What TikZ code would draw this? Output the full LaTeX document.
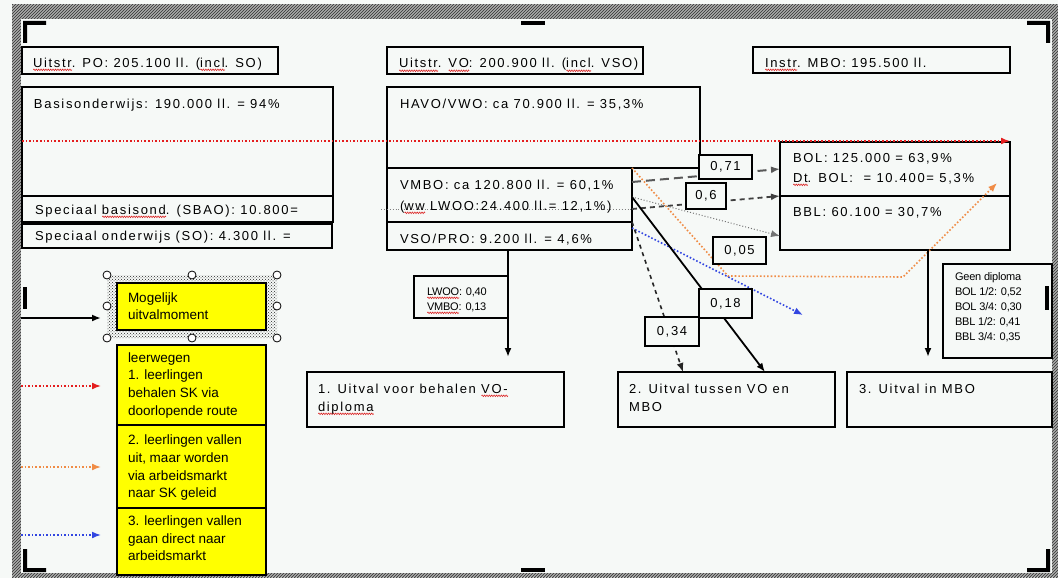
\documentclass[tikz,border=0pt]{standalone}
\usepackage{fontspec}
\setmainfont{Liberation Sans}
\newfontfamily\mf[LetterSpace=13]{Liberation Sans}
\newfontfamily\lgf{Liberation Sans}
\newfontfamily\smf[LetterSpace=-2]{Liberation Sans}
\usetikzlibrary{arrows.meta,patterns,decorations.pathmorphing}
\definecolor{bgc}{RGB}{246,249,247}
\definecolor{hatchc}{RGB}{70,70,70}
\definecolor{spellred}{RGB}{220,40,40}
\definecolor{reddot}{RGB}{228,30,30}
\definecolor{orangedot}{RGB}{240,140,70}
\definecolor{bluedot}{RGB}{50,70,225}
\definecolor{yel}{RGB}{255,255,0}
\newsavebox\splbox
\newcommand\spl[1]{\sbox\splbox{#1}\rlap{\tikz[baseline=0pt]{\draw[spellred,line width=0.6pt,decorate,decoration={zigzag,amplitude=0.8pt,segment length=2.4pt}] (0pt,-2.8pt) -- (\the\wd\splbox,-2.8pt);}}\usebox\splbox}
\newcommand\bx[6][]{\node[box,#1,minimum width={(#5-#3)*1pt},minimum height={(#6-#4)*1pt},anchor=north west] (#2) at (#3,#4) {};}
\begin{document}
\begin{tikzpicture}[x=1pt,y=-1pt,
  box/.style={draw=black,line width=1.2pt,inner sep=0pt,outer sep=0pt},
  lab/.style={box,fill=bgc},
  labt/.style={font=\mf\fontsize{13pt}{15pt}\selectfont,inner sep=0pt},
  ybox/.style={box,fill=yel},
  txt/.style={anchor=base west,inner sep=0pt,outer sep=0pt,font=\mf\fontsize{13pt}{15pt}\selectfont},
  lgt/.style={anchor=base west,inner sep=0pt,outer sep=0pt,font=\lgf\fontsize{13.5pt}{16pt}\selectfont},
  smt/.style={anchor=base west,inner sep=0pt,outer sep=0pt,font=\smf\fontsize{11pt}{13pt}\selectfont},
  tip/.style={-{Latex[length=9pt,width=7pt]}},
  reddotted/.style={reddot,line width=1.6pt,dotted,tip},
  orangedotted/.style={orangedot,line width=1.6pt,dotted,tip},
  bluedotted/.style={bluedot,line width=1.6pt,dotted,tip},
  longdash/.style={black!65,line width=2pt,dash pattern=on 9pt off 5pt,tip},
  middash/.style={black!75,line width=1.8pt,dash pattern=on 5pt off 4pt,tip},
  shortdash/.style={black!85,line width=1.6pt,dash pattern=on 4pt off 4pt,tip},
  thindot/.style={black!55,line width=1pt,dotted,tip},
  solidline/.style={black,line width=1.8pt,tip},
  hatchline/.style={hatchc,line width=1.1pt},
  handle/.style={circle,draw=black,line width=0.8pt,fill=white,minimum size=8pt,inner sep=0pt}]
\useasboundingbox (0,0) rectangle (1058,578);
\fill[bgc] (0,0) rectangle (1058,578);
% hatched frame
\begin{scope}
  \clip (12,5) rectangle (1058,578);
  \foreach \i in {-600,-597,...,1060} \draw[hatchline] (\i,578) -- (\i+578,0);
\end{scope}
\fill[bgc] (21,19) rectangle (1052,573);
% corner marks
\fill[black] (23,21) rectangle (46,25) (23,21) rectangle (27,43);
\fill[black] (521,21) rectangle (545,25);
\fill[black] (1027,21) rectangle (1050,25) (1046,21) rectangle (1050,43);
\fill[black] (23,287) rectangle (27,309);
\fill[black] (1045,286) rectangle (1049,310);
\fill[black] (23,549) rectangle (27,572) (23,568) rectangle (46,572);
\fill[black] (521,568) rectangle (545,572);
\fill[black] (1046,549) rectangle (1050,572) (1027,568) rectangle (1050,572);

% main boxes
\bx{po}{22}{47}{278}{74}
\bx{basis}{22}{87}{333}{196}
\bx{sbao}{22}{196}{333}{222}
\bx{so}{22}{224}{332}{248}
\bx{vo}{387}{47}{643}{74}
\bx{havo}{387}{87}{700}{168}
\bx{vmbo}{387}{168}{632}{222}
\bx{vso}{387}{222}{632}{250}
\bx{mbo}{753}{47}{1010}{73}
\bx{bol}{780}{142}{1010}{196}
\bx{bbl}{780}{196}{1010}{250}
\bx{geen}{943}{264}{1052}{358}
\bx{uone}{307}{372}{564}{427}
\bx{utwo}{618}{372}{835}{427}
\bx{uthree}{847}{372}{1052}{427}

% legend selection frame and yellow boxes
\fill[pattern=crosshatch dots,pattern color=black!85,even odd rule] (107,275) rectangle (277,338) (117,283) rectangle (266,330);
\bx[ybox]{lgzero}{117}{283}{266}{330}
\bx[ybox]{lgone}{117}{345}{266}{425}
\bx[ybox]{lgtwo}{117}{425}{266}{508}
\bx[ybox]{lgthree}{117}{508}{266}{575}
\node[handle] (ha) at (107,275) {};
\node[handle] (hb) at (192,275) {};
\node[handle] (hc) at (277,275) {};
\node[handle] (hd) at (107,306) {};
\node[handle] (he) at (277,306) {};
\node[handle] (hf) at (107,338) {};
\node[handle] (hg) at (192,338) {};
\node[handle] (hh) at (277,338) {};

% legend arrows
\coordinate (lsa) at (21,318); \coordinate (lea) at (101,318);
\coordinate (lsb) at (21,386); \coordinate (leb) at (101,386);
\coordinate (lsc) at (21,467); \coordinate (lec) at (101,467);
\coordinate (lsd) at (21,535); \coordinate (led) at (101,535);
\draw[solidline] (lsa) -- (lea);
\draw[reddotted] (lsb) -- (leb);
\draw[orangedotted] (lsc) -- (lec);
\draw[bluedotted] (lsd) -- (led);

% free connector ends
\coordinate (oa) at (728,276);
\coordinate (ob) at (903,277);
\coordinate (oc) at (997,183);
\coordinate (bend) at (803,315);
\coordinate (vend) at (508,357);
\coordinate (mend) at (928,357);

% connectors
\draw[black!50,line width=0.9pt,dotted] ([xshift=-6pt,yshift=-41pt]vmbo.north west) -- ([yshift=-41pt]vmbo.north east);
\draw[reddotted] ([yshift=-54pt]basis.north west) -- ([yshift=1pt]bol.north east);
\draw[longdash] ([yshift=-14pt]vmbo.north east) -- ([yshift=-27pt]bol.north west);
\draw[middash] ([yshift=-41pt]vmbo.north east) -- (bbl.north west);
\draw[thindot] ([yshift=-29pt]vmbo.north east) -- ([yshift=-40pt]bbl.north west);
\draw[orangedotted] (vmbo.north east) -- (oa) -- (ob) -- (oc);
\draw[bluedotted] ([yshift=-6pt]vso.north east) -- (bend);
\draw[solidline] ([yshift=-29pt]vmbo.north east) -- ([xshift=147pt]utwo.north west);
\draw[shortdash] (vmbo.south east) -- ([xshift=65pt]utwo.north west);
\draw[solidline] ([xshift=121pt]vso.south west) -- (vend);
\draw[solidline] ([xshift=148pt]bbl.south west) -- (mend);

% labels
\bx[lab]{lseventyone}{699}{155}{752}{179}
\bx[lab]{lsix}{686}{183}{726}{209}
\bx[lab]{lfive}{713}{237}{766}{264}
\bx[lab]{leighteen}{699}{289}{752}{318}
\bx[lab]{lthirtyfour}{645}{317}{699}{346}
\node[labt] (tseventyone) at (lseventyone.center) {0,71};
\node[labt] (tsix) at (lsix.center) {0,6};
\node[labt] (tfive) at (lfive.center) {0,05};
\node[labt] (teighteen) at (leighteen.center) {0,18};
\node[labt] (tthirtyfour) at (lthirtyfour.center) {0,34};
\bx[lab]{llwoo}{414}{276}{508}{318}

% texts
\node[txt] (tpo) at (33,67) {\spl{Uitstr}. PO: 205.100 ll. (\spl{incl}. SO)};
\node[txt] (tbasis) at (34,108) {Basisonderwijs: 190.000 ll. = 94\%};
\node[txt] (tsbao) at (35,214) {Speciaal \spl{basisond}. (SBAO): 10.800=};
\node[txt] (tso) at (35,240) {Speciaal onderwijs (SO): 4.300 ll. =};
\node[txt] (tvo) at (399,68) {\spl{Uitstr}. \spl{VO}: 200.900 ll. (\spl{incl}. VSO)};
\node[txt] (thavo) at (400,108) {HAVO/VWO: ca 70.900 ll. = 35,3\%};
\node[txt] (tvmboa) at (400,189) {VMBO: ca 120.800 ll. = 60,1\%};
\node[txt] (tvmbob) at (400,210) {(\spl{ww} LWOO:24.400 ll.= 12,1\%)};
\node[txt] (tvso) at (400,243) {VSO/PRO: 9.200 ll. = 4,6\%};
\node[txt] (tmbo) at (765,67) {\spl{Instr}. MBO: 195.500 ll.};
\node[txt] (tbola) at (793,162) {BOL: 125.000 = 63,9\%};
\node[txt] (tbolb) at (793,182) {\spl{Dt}. BOL:\ \ = 10.400= 5,3\%};
\node[txt] (tbbl) at (793,216) {BBL: 60.100 = 30,7\%};
\node[smt] (tga) at (955,280) {Geen diploma};
\node[smt] (tgb) at (955,295) {BOL 1/2: 0,52};
\node[smt] (tgc) at (955,310) {BOL 3/4: 0,30};
\node[smt] (tgd) at (955,325) {BBL 1/2: 0,41};
\node[smt] (tge) at (955,340) {BBL 3/4: 0,35};
\node[smt] (tla) at (427,295) {\spl{LWOO}: 0,40};
\node[smt] (tlb) at (427,310) {\spl{VMBO}: 0,13};
\node[txt] (tua) at (318,393) {1. Uitval voor behalen \spl{VO-}};
\node[txt] (tub) at (318,411) {\spl{diploma}};
\node[txt] (tuc) at (629,393) {2. Uitval tussen VO en};
\node[txt] (tud) at (629,411) {MBO};
\node[txt] (tue) at (859,393) {3. Uitval in MBO};
% legend texts
\node[lgt] (lta) at (128,302) {Mogelijk};
\node[lgt] (ltb) at (128,319) {uitvalmoment};
\node[lgt] (ltc) at (128,362) {leerwegen};
\node[lgt] (ltd) at (128,379) {1. leerlingen};
\node[lgt] (lte) at (128,397) {behalen SK via};
\node[lgt] (ltf) at (128,415) {doorlopende route};
\node[lgt] (ltg) at (128,444) {2. leerlingen vallen};
\node[lgt] (lth) at (128,462) {uit, maar worden};
\node[lgt] (lti) at (128,480) {via arbeidsmarkt};
\node[lgt] (ltj) at (128,497) {naar SK geleid};
\node[lgt] (ltk) at (128,525) {3. leerlingen vallen};
\node[lgt] (ltl) at (128,543) {gaan direct naar};
\node[lgt] (ltm) at (128,560) {arbeidsmarkt};
\end{tikzpicture}
\end{document}
